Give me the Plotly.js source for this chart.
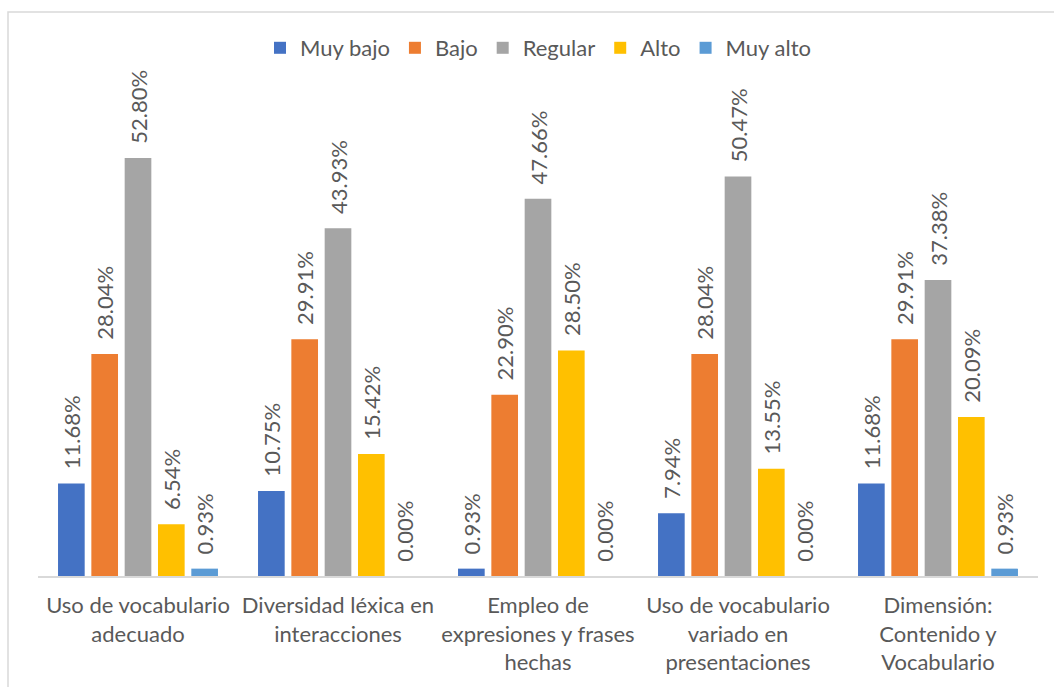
<!DOCTYPE html>
<html><head><meta charset="utf-8">
<script src="https://cdn.plot.ly/plotly-3.0.1.min.js"></script>
<style>html,body{margin:0;padding:0;background:#fff}#chart{width:1054px;height:687px}</style>
</head><body><div id="chart"></div>
<script>
const categories = [
  "Uso de vocabulario<br>adecuado",
  "Diversidad léxica en<br>interacciones",
  "Empleo de<br>expresiones y frases<br>hechas",
  "Uso de vocabulario<br>variado en<br>presentaciones",
  "Dimensión:<br>Contenido y<br>Vocabulario"
];
const seriesNames = ["Muy bajo", "Bajo", "Regular", "Alto", "Muy alto"];
const muyBajo = [11.68, 10.75, 0.93, 7.94, 11.68];
const bajo    = [28.04, 29.91, 22.90, 28.04, 29.91];
const regular = [52.80, 43.93, 47.66, 50.47, 37.38];
const alto    = [6.54, 15.42, 28.50, 13.55, 20.09];
const muyAlto = [0.93, 0.00, 0.00, 0.00, 0.93];
const colors = ["#4472C4", "#ED7D31", "#A5A5A5", "#FFC000", "#5B9BD5"];

const FONT = "Lato, 'Open Sans', sans-serif";
const TXT = "#595959";
const values = [muyBajo, bajo, regular, alto, muyAlto];
const data = values.map((v, i) => ({
  type: "bar",
  name: seriesNames[i],
  x: categories,
  y: v,
  marker: {color: colors[i]},
  texttemplate: "\u00a0\u00a0%{y:.2f}%",
  textposition: "outside",
  textangle: -90,
  constraintext: "none",
  cliponaxis: false,
  textfont: {family: FONT, size: 22, color: TXT},
  hoverinfo: "none"
}));

const layout = {
  width: 1054, height: 687,
  margin: {l: 38, r: 16, t: 101, b: 111},
  paper_bgcolor: "#fff", plot_bgcolor: "#fff",
  barmode: "group", bargap: 0.167, bargroupgap: 0.2,
  font: {family: FONT, color: TXT, size: 22},
  showlegend: true,
  legend: {orientation: "h", x: 0.5, xanchor: "center", y: 1.1116, yanchor: "middle",
           font: {family: FONT, size: 22, color: TXT}, itemwidth: 30, tracegroupgap: 0},
  xaxis: {showline: true, linecolor: "#D9D9D9", linewidth: 1.5, ticks: "", showgrid: false,
          ticklabelstandoff: 9,
          tickfont: {family: FONT, size: 22, color: TXT}, fixedrange: true},
  yaxis: {range: [0, 60], visible: false, showgrid: false, zeroline: false, fixedrange: true},
  shapes: [{type: "rect", xref: "paper", yref: "paper", x0: -0.03, x1: 1.2, y0: -0.5, y1: 1.1874,
            line: {color: "#D9D9D9", width: 1.5}, fillcolor: "rgba(0,0,0,0)", layer: "below"}]
};
Plotly.newPlot("chart", data, layout, {displayModeBar: false, staticPlot: true});
</script></body></html>
